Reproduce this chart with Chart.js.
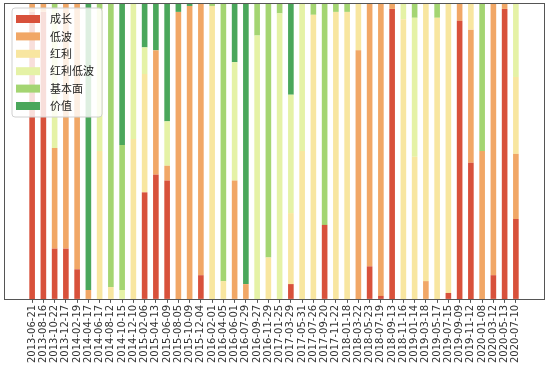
<!DOCTYPE html>
<html>
<head>
<meta charset="utf-8">
<script src="https://cdn.jsdelivr.net/npm/chart.js@4/dist/chart.umd.min.js"></script>
<style>
  html, body { margin: 0; padding: 0; background: #fff; }
  #wrap { width: 550px; height: 385px; }
</style>
</head>
<body>
<div id="wrap"><canvas id="c"></canvas></div>
<script>
// 调仓日期
var dates = [
  '2013-06-21','2013-08-16','2013-10-22','2013-12-17','2014-02-19','2014-04-17','2014-06-17','2014-08-12',
  '2014-10-15','2014-12-10','2015-02-06','2015-04-13','2015-06-09','2015-08-05','2015-10-09','2015-12-04',
  '2016-02-01','2016-04-05','2016-06-01','2016-07-29','2016-09-27','2016-11-29','2017-01-25','2017-03-29',
  '2017-05-31','2017-07-26','2017-09-20','2017-11-22','2018-01-18','2018-03-22','2018-05-23','2018-07-19',
  '2018-09-13','2018-11-16','2019-01-14','2019-03-18','2019-05-17','2019-07-15','2019-09-09','2019-11-12',
  '2020-01-08','2020-03-12','2020-05-13','2020-07-10'
];

var seriesNames = ['成长', '低波', '红利', '红利低波', '基本面', '价值'];
var seriesColors = ['#d8513b', '#f1a766', '#f8e6a0', '#e5f2a6', '#a4d572', '#4aa75b'];

// 各风格权重（每期合计为 1）
var growth   = [.97,.97,.17,.17,.10,0,0,0,0,0,.36,.42,.40,0,0,.08,0,0,0,0,0,0,0,.05,0,0,.25,0,0,0,.11,.01,.98,0,0,0,0,.02,.94,.46,0,.08,.98,.27];
var lowVol   = [.03,.03,.34,.83,.90,.03,0,0,0,0,0,.42,.05,.97,.99,.92,0,0,.40,.05,0,0,0,0,0,0,0,0,0,.84,.89,.99,.02,0,0,.06,0,0,.06,.45,.50,.92,.02,.22];
var dividend = [0,0,0,0,0,0,.50,.04,0,.54,.40,0,0,0,0,0,.99,.06,0,0,0,.14,0,.24,.50,.96,0,.97,.97,.16,0,0,0,.945,.48,.94,.95,.98,0,.09,0,0,0,.26];
var divLowVol= [0,0,.47,0,0,0,.48,0,.03,.46,.09,0,.15,0,0,0,0,0,.40,0,.89,0,.965,.40,.50,0,0,0,0,0,0,0,0,.055,.47,0,0,0,0,0,0,0,0,.25];
var fundamental = [0,0,.02,0,0,0,.02,.96,.49,0,0,0,0,0,0,0,.01,.94,0,0,.11,.86,.035,0,0,.04,.75,.03,.03,0,0,0,0,0,.05,0,.05,0,0,0,.50,0,0,0];
var value    = [0,0,0,0,0,.97,0,0,.48,0,.15,.16,.40,.03,.01,0,0,0,.20,.95,0,0,0,.31,0,0,0,0,0,0,0,0,0,0,0,0,0,0,0,0,0,0,0,0];

var allSeries = [growth, lowVol, dividend, divLowVol, fundamental, value];

var datasets = allSeries.map(function(vals, k) {
  return {
    label: seriesNames[k],
    data: vals.map(function(v, i) { return { x: i, y: v }; }),
    backgroundColor: seriesColors[k],
    borderWidth: 0,
    barPercentage: 0.5,
    categoryPercentage: 1.0
  };
});

// 坐标框
var framePlugin = {
  id: 'frame',
  afterDatasetsDraw: function(chart) {
    var a = chart.chartArea, ctx = chart.ctx;
    ctx.save();
    ctx.strokeStyle = '#555';
    ctx.lineWidth = 1;
    ctx.strokeRect(Math.round(a.left) + 0.5, Math.round(a.top) + 0.5,
      Math.round(a.right - a.left), Math.round(a.bottom - a.top));
    ctx.restore();
  }
};

// 左上角图例
var legendPlugin = {
  id: 'boxLegend',
  afterDraw: function(chart) {
    var ctx = chart.ctx;
    var x0 = 12, y0 = 8, w = 90, h = 109, r = 3;
    ctx.save();
    ctx.fillStyle = 'rgba(255,255,255,0.82)';
    ctx.strokeStyle = '#d0d0d0';
    ctx.lineWidth = 1;
    ctx.beginPath();
    ctx.moveTo(x0 + r, y0);
    ctx.arcTo(x0 + w, y0, x0 + w, y0 + h, r);
    ctx.arcTo(x0 + w, y0 + h, x0, y0 + h, r);
    ctx.arcTo(x0, y0 + h, x0, y0, r);
    ctx.arcTo(x0, y0, x0 + w, y0, r);
    ctx.closePath();
    ctx.fill();
    ctx.stroke();
    ctx.font = '11px "Noto Sans CJK SC"';
    ctx.textBaseline = 'middle';
    chart.data.datasets.forEach(function(ds, k) {
      var cy = 19 + k * 17.4;
      ctx.fillStyle = ds.backgroundColor;
      ctx.fillRect(16, cy - 4, 24, 8);
      ctx.fillStyle = '#222';
      ctx.fillText(ds.label, 50, cy);
    });
    ctx.restore();
  }
};

new Chart(document.getElementById('c'), {
  type: 'bar',
  data: { datasets: datasets },
  plugins: [framePlugin, legendPlugin],
  options: {
    responsive: true,
    maintainAspectRatio: false,
    animation: false,
    layout: { padding: { left: 4, right: 6, top: 3, bottom: 20 } },
    plugins: {
      legend: { display: false },
      tooltip: { enabled: false }
    },
    scales: {
      x: {
        type: 'linear',
        stacked: true,
        offset: false,
        min: -2.5,
        max: dates.length + 1.5,
        afterBuildTicks: function(scale) {
          scale.ticks = dates.map(function(d, i) { return { value: i }; });
        },
        border: { display: false },
        grid: { offset: false, drawOnChartArea: false, drawTicks: true, tickLength: 4, color: '#555' },
        ticks: {
          autoSkip: false,
          minRotation: 90,
          maxRotation: 90,
          padding: 2,
          color: '#333',
          font: { family: 'DejaVu Sans', size: 10 },
          callback: function(v) { return dates[v] || ''; }
        }
      },
      y: {
        stacked: true,
        display: false,
        min: 0,
        max: 1
      }
    }
  }
});
</script>
</body>
</html>
